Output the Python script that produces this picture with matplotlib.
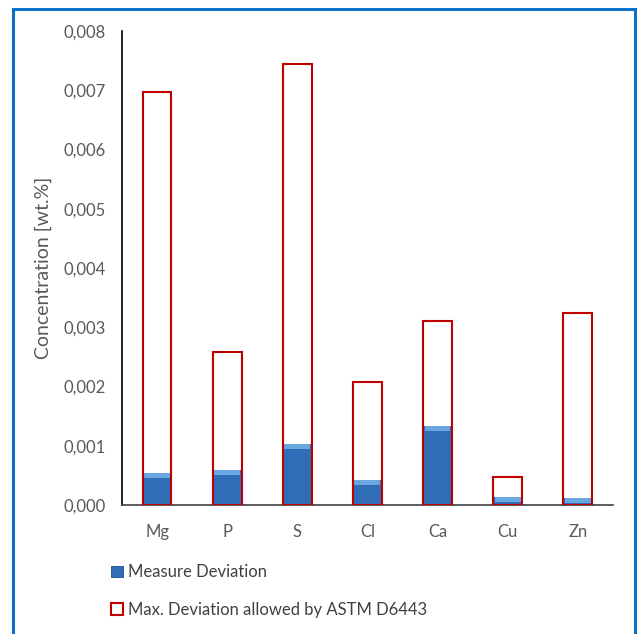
import matplotlib.pyplot as plt
from matplotlib.patches import Rectangle, Patch
from matplotlib.ticker import FuncFormatter

elements = ['Mg', 'P', 'S', 'Cl', 'Ca', 'Cu', 'Zn']
measure_dev = [0.00054, 0.00059, 0.00103, 0.00042, 0.00133, 0.00013, 0.00012]
max_dev = [0.00697, 0.00258, 0.00744, 0.00208, 0.00310, 0.00047, 0.00324]
yticks = [0.000, 0.001, 0.002, 0.003, 0.004, 0.005, 0.006, 0.007, 0.008]

plt.rcParams['font.family'] = ['Lato', 'DejaVu Sans']
TEXT = '#595959'
BLUE = '#2f6db6'
BLUE_TOP = '#6aa6e0'
RED = '#c00000'

fig = plt.figure(figsize=(6.37, 6.34), dpi=100)
ax = fig.add_axes([0.1915, 0.2035, 0.7705, 0.7475])

x = range(len(elements))
w = 0.41
ax.set_xlim(-0.5, len(elements) - 0.5)
ax.set_ylim(0, 0.008)

ax.bar(x, measure_dev, width=w, color=BLUE, edgecolor='#1f4e8c', linewidth=0.6, zorder=2)
# lighter bevel strip on top of the blue bars (about 5 px high)
strip = 5 / (ax.get_position().height * fig.get_figheight() * fig.dpi) * 0.008
tops = [min(v, strip) for v in measure_dev]
bottoms = [v - t for v, t in zip(measure_dev, tops)]
ax.bar(x, tops, bottom=bottoms, width=w * 0.9, color=BLUE_TOP, linewidth=0, zorder=2.5)
ax.bar(x, max_dev, width=w, fill=False, edgecolor=RED, linewidth=1.5, zorder=3)

ax.set_yticks(yticks)
ax.yaxis.set_major_formatter(FuncFormatter(lambda v, p: f'{v:.3f}'.replace('.', ',')))
ax.set_xticks(list(x))
ax.set_xticklabels(elements)
ax.tick_params(axis='both', length=0, colors=TEXT, labelsize=12)
ax.tick_params(axis='y', pad=12)
ax.tick_params(axis='x', pad=14)

for s in ['top', 'right']:
    ax.spines[s].set_visible(False)
ax.spines['left'].set_color('black')
ax.spines['bottom'].set_color('#404040')
ax.spines['left'].set_linewidth(1.2)
ax.spines['bottom'].set_linewidth(1.2)

ax.set_ylabel('Concentration [wt.%]', fontsize=14, color=TEXT, labelpad=8)

handles = [Patch(facecolor=BLUE, edgecolor='#1f4e8c', linewidth=0.6),
           Patch(facecolor='white', edgecolor=RED, linewidth=1.5)]
fig.legend(handles, ['Measure Deviation', 'Max. Deviation allowed by ASTM D6443'],
           loc='upper left', bbox_to_anchor=(0.174, 0.110), frameon=False,
           fontsize=12, labelcolor='#404040', handlelength=0.7, handleheight=0.7,
           handletextpad=0.3, labelspacing=1.3, borderpad=0, borderaxespad=0)

# blue frame around the figure
fig.patches.append(Rectangle((0.021, -0.02), 0.976, 1.006, transform=fig.transFigure,
                             fill=False, edgecolor='#0a70c8', linewidth=2.2))

fig.savefig('out.png', dpi=100, facecolor='white')
